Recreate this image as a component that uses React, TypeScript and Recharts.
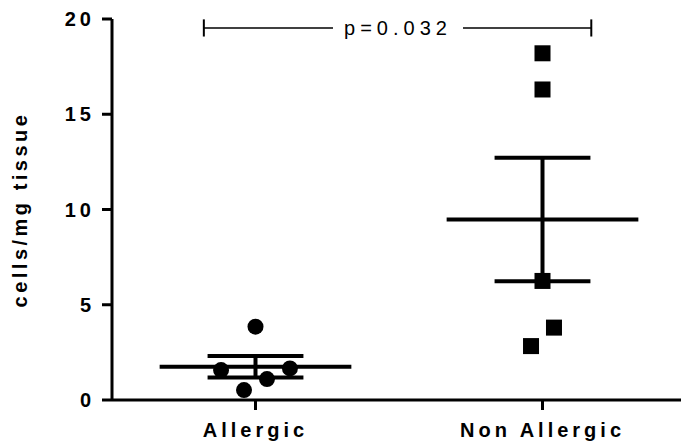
import React from "react";
import {
  ScatterChart,
  Scatter,
  XAxis,
  YAxis,
  ReferenceLine,
} from "recharts";

const categories = ["Allergic", "Non Allergic"];
const categoryX = [0.5, 1.5];
const allergic = [3.85, 1.57, 1.66, 1.1, 0.52];
const nonAllergic = [18.2, 16.3, 6.25, 3.8, 2.83];
const yTicks = [0, 5, 10, 15, 20];
const pLabel = "p=0.032";

const FONT = "'Liberation Sans', Arial, sans-serif";

function stats(vals: number[]) {
  const n = vals.length;
  const mean = vals.reduce((a, b) => a + b, 0) / n;
  const sd = Math.sqrt(vals.reduce((a, b) => a + (b - mean) ** 2, 0) / (n - 1));
  return { mean, sem: sd / Math.sqrt(n) };
}

const groups = [allergic, nonAllergic].map((vals, i) => ({
  x: categoryX[i],
  ...stats(vals),
}));

const toPoints = (vals: number[], i: number, offsets: number[]) =>
  vals.map((y, j) => ({ x: categoryX[i] + offsets[j], y }));

// small horizontal jitter like the original scatter
const allergicPts = toPoints(allergic, 0, [0, -0.12, 0.12, 0.04, -0.04]);
const nonAllergicPts = toPoints(nonAllergic, 1, [0, 0, 0, 0.04, -0.04]);

const Dot = (p: any) => <circle cx={p.cx} cy={p.cy} r={8} fill="#000" />;
const Square = (p: any) => (
  <rect x={p.cx - 8} y={p.cy - 8} width={16} height={16} fill="#000" />
);

const MEAN_HALF = 0.334;
const CAP_HALF = 0.167;
const BR = { y: 19.53, x1: 0.32, x2: 1.67, gap1: 0.77, gap2: 1.223, cap: 0.45 };

const tickStyle = { fill: "#000", fontSize: 20, fontWeight: 700, fontFamily: FONT, letterSpacing: 4 };

export default function App() {
  return (
    <div style={{ position: "absolute", left: 0, top: 0, width: 681, height: 447, overflow: "hidden", background: "#fff" }}>
      <ScatterChart width={690} height={447} margin={{ top: 19, right: 4, bottom: 0, left: 0 }}>
        <XAxis
          type="number"
          dataKey="x"
          domain={[0, 2]}
          ticks={categoryX}
          tickFormatter={(v: number) => categories[categoryX.indexOf(v)] ?? ""}
          height={47}
          tickSize={10}
          tickMargin={13}
          axisLine={{ stroke: "#000", strokeWidth: 3 }}
          tickLine={{ stroke: "#000", strokeWidth: 3 }}
          tick={tickStyle}
          allowDataOverflow
        />
        <YAxis
          type="number"
          dataKey="y"
          domain={[0, 20]}
          ticks={yTicks}
          width={112}
          tickSize={10}
          tickMargin={7}
          axisLine={{ stroke: "#000", strokeWidth: 3 }}
          tickLine={{ stroke: "#000", strokeWidth: 3 }}
          tick={tickStyle}
          label={{
            value: "cells/mg tissue",
            angle: -90,
            position: "insideLeft",
            offset: 20,
            style: { textAnchor: "middle", fill: "#000", fontSize: 20, fontWeight: 700, fontFamily: FONT, letterSpacing: 3.5 },
          }}
        />
        {groups.map((g, i) => (
          <ReferenceLine
            key={"m" + i}
            segment={[{ x: g.x - MEAN_HALF, y: g.mean }, { x: g.x + MEAN_HALF, y: g.mean }]}
            stroke="#000"
            strokeWidth={4}
          />
        ))}
        {groups.map((g, i) => (
          <ReferenceLine
            key={"v" + i}
            segment={[{ x: g.x, y: g.mean - g.sem }, { x: g.x, y: g.mean + g.sem }]}
            stroke="#000"
            strokeWidth={4}
          />
        ))}
        {groups.flatMap((g, i) =>
          [g.mean - g.sem, g.mean + g.sem].map((y, k) => (
            <ReferenceLine
              key={"c" + i + k}
              segment={[{ x: g.x - CAP_HALF, y }, { x: g.x + CAP_HALF, y }]}
              stroke="#000"
              strokeWidth={4}
            />
          ))
        )}
        <ReferenceLine segment={[{ x: BR.x1, y: BR.y }, { x: BR.gap1, y: BR.y }]} stroke="#000" strokeWidth={1.5} />
        <ReferenceLine segment={[{ x: BR.gap2, y: BR.y }, { x: BR.x2, y: BR.y }]} stroke="#000" strokeWidth={1.5} />
        <ReferenceLine segment={[{ x: BR.x1, y: BR.y - BR.cap }, { x: BR.x1, y: BR.y + BR.cap }]} stroke="#000" strokeWidth={2} />
        <ReferenceLine segment={[{ x: BR.x2, y: BR.y - BR.cap }, { x: BR.x2, y: BR.y + BR.cap }]} stroke="#000" strokeWidth={2} />
        <ReferenceLine
          segment={[{ x: BR.gap1, y: BR.y }, { x: BR.gap2, y: BR.y }]}
          stroke="none"
          label={{ value: pLabel, position: "center", fill: "#000", fontSize: 20, fontFamily: FONT, letterSpacing: 5 }}
        />
        <Scatter data={allergicPts} shape={Dot} isAnimationActive={false} />
        <Scatter data={nonAllergicPts} shape={Square} isAnimationActive={false} />
      </ScatterChart>
    </div>
  );
}
